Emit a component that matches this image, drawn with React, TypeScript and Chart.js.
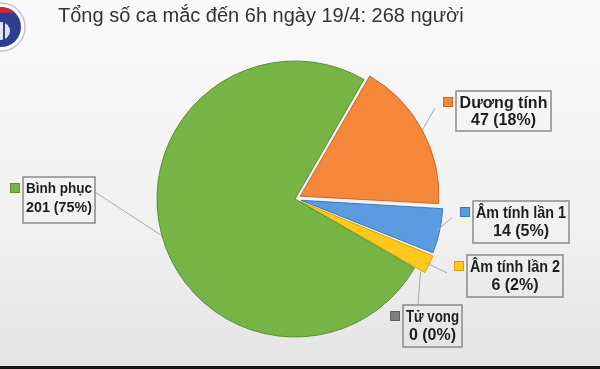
import React, { useEffect, useRef } from "react";
import { Chart, registerables } from "chart.js";

Chart.register(...registerables);

// ---- data ----
const TITLE = "Tổng số ca mắc đến 6h ngày 19/4: 268 người";
const categories = ["Dương tính", "Âm tính lần 1", "Âm tính lần 2", "Tử vong", "Bình phục"];
const values = [47, 14, 6, 0, 201];
const percentLabels = ["18%", "5%", "2%", "0%", "75%"];

// ---- styles ----
const colors = ["#f5873a", "#5b9bdf", "#ffc81a", "#7f7f7f", "#76b545"];
const borderColors = ["#c9672a", "#3f77b5", "#d9a200", "#5f5f5f", "#5a8f33"];
// Chart.js v4 translates an arc by offset / 4
const offsets = [24, 24, 24, 24, 0];

// label boxes: position of the box, its text, and where the leader line leaves it
const labelLayout = [
  { x: 456, y: 91, w: 95, h: 40, size: 16, b1: 17, b2: 34, ax: 435, ay: 108 },
  { x: 473, y: 201, w: 96, h: 42, size: 16, b1: 17, b2: 35, ax: 452, ay: 218 },
  { x: 467, y: 255, w: 96, h: 42, size: 16, b1: 17, b2: 35, ax: 447, ay: 273 },
  { x: 403, y: 305, w: 59, h: 42, size: 16, b1: 17, b2: 35, ax: 418, ay: 305 },
  { x: 23, y: 177, w: 72, h: 46, size: 15, b1: 16, b2: 35, ax: 95, ay: 192 },
];

const decorPlugin = {
  id: "decor",
  beforeDraw(chart: any) {
    const ctx = chart.ctx as CanvasRenderingContext2D;
    const W = chart.width;
    const H = chart.height;
    ctx.save();
    const g = ctx.createLinearGradient(0, 0, 0, H);
    g.addColorStop(0, "#fafafa");
    g.addColorStop(0.6, "#f1f1f1");
    g.addColorStop(1, "#e4e4e4");
    ctx.fillStyle = g;
    ctx.fillRect(0, 0, W, H);
    // bottom dark strip
    ctx.fillStyle = "#151515";
    ctx.fillRect(0, H - 3, W, 3);

    // logo (partially off canvas)
    const lx = 1, ly = 27;
    ctx.beginPath();
    ctx.arc(lx, ly, 24, 0, Math.PI * 2);
    ctx.fillStyle = "#ffffff";
    ctx.fill();
    ctx.lineWidth = 1.5;
    ctx.strokeStyle = "#c0c4d0";
    ctx.stroke();
    ctx.beginPath();
    ctx.arc(lx, ly, 20, 0, Math.PI * 2);
    ctx.fillStyle = "#2e3f93";
    ctx.fill();
    ctx.beginPath();
    ctx.arc(lx, ly, 20, Math.PI * 1.25, Math.PI * 1.75);
    ctx.closePath();
    ctx.fillStyle = "#d8262e";
    ctx.fill();
    ctx.beginPath();
    ctx.arc(lx, ly + 4, 9, 0, Math.PI * 2);
    ctx.fillStyle = "#dfe4f0";
    ctx.fill();
    ctx.beginPath();
    ctx.moveTo(lx + 3, ly - 6);
    ctx.lineTo(lx + 3, ly + 16);
    ctx.strokeStyle = "#2e3f93";
    ctx.lineWidth = 2;
    ctx.stroke();

    // title
    ctx.fillStyle = "#333333";
    ctx.font = "20px 'Liberation Sans', Arial, sans-serif";
    ctx.textAlign = "left";
    ctx.textBaseline = "alphabetic";
    ctx.fillText(TITLE, 58, 22);
    ctx.restore();
  },
  afterDatasetsDraw(chart: any) {
    const ctx = chart.ctx as CanvasRenderingContext2D;
    const meta = chart.getDatasetMeta(0);
    ctx.save();
    meta.data.forEach((arc: any, i: number) => {
      const L = labelLayout[i];
      const p = arc.getProps(["x", "y", "startAngle", "endAngle", "outerRadius"], true);
      const mid = (p.startAngle + p.endAngle) / 2;
      const off = offsets[i] / 4;
      const r = p.outerRadius + off + 1;
      const px = p.x + Math.cos(mid) * r;
      const py = p.y + Math.sin(mid) * r;
      // leader line
      ctx.beginPath();
      ctx.moveTo(L.ax, L.ay);
      ctx.lineTo(px, py);
      ctx.strokeStyle = "#aaaaaa";
      ctx.lineWidth = 1;
      ctx.stroke();
      // legend square
      ctx.fillStyle = colors[i];
      ctx.fillRect(L.x - 13, L.y + 6, 10, 10);
      ctx.strokeStyle = borderColors[i];
      ctx.lineWidth = 1;
      ctx.strokeRect(L.x - 12.5, L.y + 6.5, 9, 9);
      // box
      ctx.strokeStyle = "#8a8a8a";
      ctx.lineWidth = 1.5;
      ctx.strokeRect(L.x, L.y, L.w, L.h);
      // text
      ctx.fillStyle = "#1e1e1e";
      ctx.font = `bold ${L.size}px 'Liberation Sans', Arial, sans-serif`;
      ctx.textAlign = "center";
      ctx.textBaseline = "alphabetic";
      const cx = L.x + L.w / 2;
      ctx.fillText(categories[i], cx, L.y + L.b1, L.w - 6);
      ctx.fillText(`${values[i]} (${percentLabels[i]})`, cx, L.y + L.b2, L.w - 6);
    });
    ctx.restore();
  },
};

export default function App() {
  const ref = useRef<HTMLCanvasElement | null>(null);
  useEffect(() => {
    if (!ref.current) return;
    const chart = new Chart(ref.current, {
      type: "pie",
      data: {
        labels: categories,
        datasets: [
          {
            data: values,
            backgroundColor: colors,
            borderColor: borderColors,
            borderWidth: 1,
            offset: offsets,
          },
        ],
      },
      options: {
        responsive: false,
        animation: false,
        rotation: 30,
        radius: 138,
        layout: { padding: { left: 0, right: 10, top: 40, bottom: 11 } },
        plugins: {
          legend: { display: false },
          tooltip: { enabled: false },
          title: { display: false },
        },
      },
      plugins: [decorPlugin],
    } as any);
    return () => chart.destroy();
  }, []);
  return (
    <div style={{ position: "absolute", left: 0, top: 0, width: 600, height: 369 }}>
      <canvas ref={ref} width={600} height={369} style={{ display: "block" }} />
    </div>
  );
}
